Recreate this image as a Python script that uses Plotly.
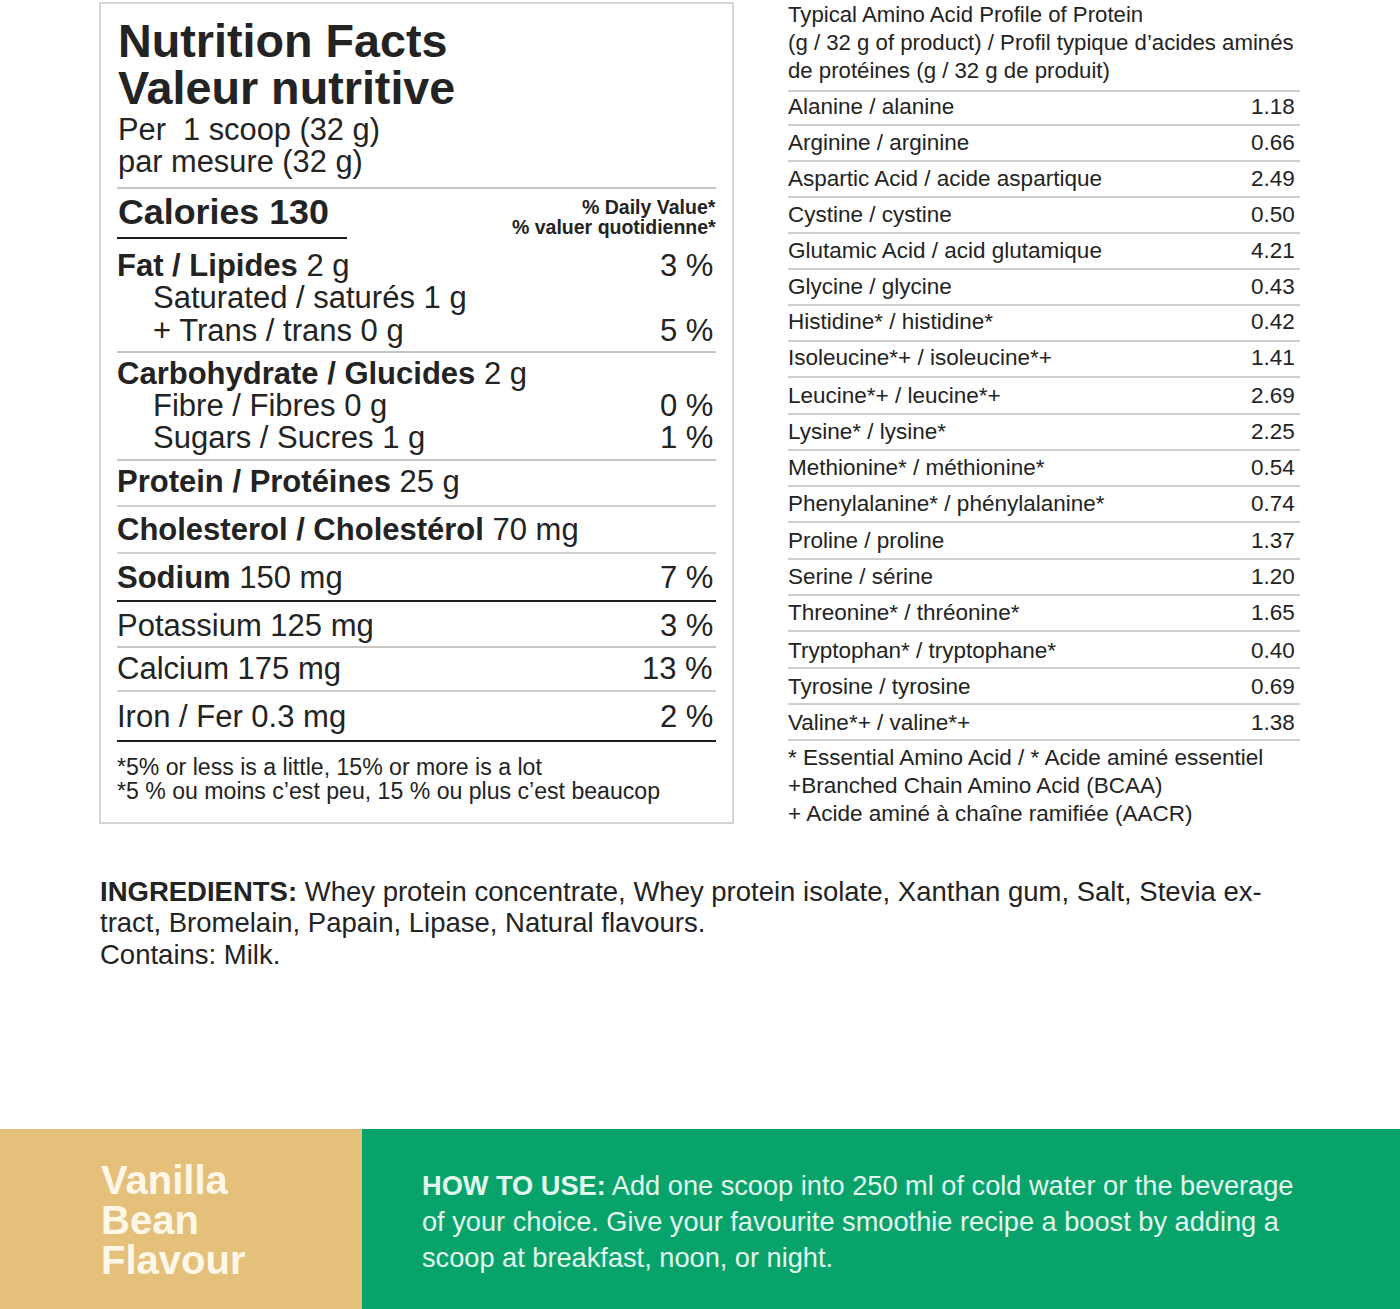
import plotly.graph_objects as go

# nutrition panel rows: bold part, plain part, daily value
title_lines = ["Nutrition Facts", "Valeur nutritive"]
serving_lines = ["Per\u00a0\u00a01\u00a0scoop (32 g)", "par mesure (32 g)"]
calories_label = "Calories 130"
daily_value_lines = ["% Daily Value*", "% valuer quotidienne*"]

nutrient_bold = ["Fat / Lipides", "", "", "Carbohydrate / Glucides", "", "", "Protein / Protéines",
                 "Cholesterol / Cholestérol", "Sodium", "", "", ""]
nutrient_plain = ["2 g", "Saturated / saturés 1 g", "+ Trans / trans 0 g", "2 g", "Fibre / Fibres 0 g",
                  "Sugars / Sucres 1 g", "25 g", "70 mg", "150 mg", "Potassium 125 mg",
                  "Calcium 175 mg", "Iron / Fer 0.3 mg"]
nutrient_pct = ["3 %", "", "5 %", "", "0 %", "1 %", "", "", "7 %", "3 %", "13 %", "2 %"]
footnotes = ["*5% or less is a little, 15% or more is a lot",
             "*5 % ou moins c\u2019est peu, 15 % ou plus c\u2019est beaucop"]

amino_header = ["Typical Amino Acid Profile of Protein",
                "(g / 32 g of product) / Profil typique d\u2019acides aminés",
                "de protéines (g / 32 g de produit)"]
amino_names = ["Alanine / alanine", "Arginine / arginine", "Aspartic Acid / acide aspartique",
               "Cystine / cystine", "Glutamic Acid / acid glutamique", "Glycine / glycine",
               "Histidine* / histidine*", "Isoleucine*+ / isoleucine*+", "Leucine*+ / leucine*+",
               "Lysine* / lysine*", "Methionine* / méthionine*", "Phenylalanine* / phénylalanine*",
               "Proline / proline", "Serine / sérine", "Threonine* / thréonine*",
               "Tryptophan* / tryptophane*", "Tyrosine / tyrosine", "Valine*+ / valine*+"]
amino_values = ["1.18", "0.66", "2.49", "0.50", "4.21", "0.43", "0.42", "1.41", "2.69",
                "2.25", "0.54", "0.74", "1.37", "1.20", "1.65", "0.40", "0.69", "1.38"]
amino_notes = ["* Essential Amino Acid / * Acide aminé essentiel",
               "+Branched Chain Amino Acid (BCAA)",
               "+ Acide aminé à chaîne ramifiée (AACR)"]

ingredients = ["<b>INGREDIENTS:</b> Whey protein concentrate, Whey protein isolate, Xanthan gum, Salt, Stevia ex-",
               "tract, Bromelain, Papain, Lipase, Natural flavours.",
               "Contains: Milk."]
flavour = ["Vanilla", "Bean", "Flavour"]
how_to_use = ["<b>HOW TO USE:</b> Add one scoop into 250 ml of cold water or the beverage",
              "of your choice. Give your favourite smoothie recipe a boost by adding a",
              "scoop at breakfast, noon, or night."]

# layout of the rows
nutrient_y = [265, 297, 330, 373, 405, 437, 481, 529, 577, 625, 668, 716]
nutrient_x = [117, 153, 153, 117, 153, 153, 117, 117, 117, 117, 117, 117]
amino_y = [106.5, 142.5, 178.5, 214.5, 250.5, 286.5, 321.5, 357.5, 395.5, 431.5, 467.5, 503.5,
           540.5, 576.5, 612.5, 650.5, 686.5, 722.5]
amino_lines = [91, 125, 161, 197, 233, 269, 305, 341, 377, 414, 450, 486, 522, 559, 595, 631, 668, 704, 740]
INK = "#232323"
FONT = "Liberation Sans"

fig = go.Figure()
annots = []
shapes = []


def text(x, y, s, size, anchor="left", color=INK):
    annots.append(dict(x=x, y=y, text=s, showarrow=False, xanchor=anchor, yanchor="middle",
                       align=anchor, borderpad=0, borderwidth=0,
                       font=dict(family=FONT, size=size, color=color)))


def rule(x0, x1, y, width=1.0, color="#8c8c8c"):
    shapes.append(dict(type="line", x0=x0, x1=x1, y0=y, y1=y, line=dict(color=color, width=width)))


# nutrition box
shapes.append(dict(type="rect", x0=100, x1=733, y0=3, y1=823, line=dict(color="#c8c8c8", width=1.5)))
for y, s in zip([41, 88], title_lines):
    text(118, y, "<b>%s</b>" % s, 46.7)
for y, s in zip([129.5, 161.5], serving_lines):
    text(118, y, s, 30.8)
rule(117, 716, 188)
text(118, 212, "<b>%s</b>" % calories_label, 35.8)
rule(117, 347, 238, 2, "#1e1e1e")
for y, s in zip([207, 227], daily_value_lines):
    text(716, y, "<b>%s</b>" % s, 19.5, anchor="right")

for i in range(len(nutrient_plain)):
    label = nutrient_plain[i]
    if nutrient_bold[i]:
        label = "<b>%s</b> %s" % (nutrient_bold[i], nutrient_plain[i])
    text(nutrient_x[i], nutrient_y[i], label, 31)
    if nutrient_pct[i]:
        text(713, nutrient_y[i], nutrient_pct[i], 31, anchor="right")

for y in [352, 460, 647]:
    rule(117, 716, y)
for y in [506, 553, 691]:
    rule(117, 716, y, 1.5, "#c0c0c0")
for y in [601, 741]:
    rule(117, 716, y, 2, "#1e1e1e")
for y, s in zip([767, 791], footnotes):
    text(117, y, s, 23.1)

# amino acid table
for y, s in zip([14.5, 42.5, 70.5], amino_header):
    text(788, y, s, 22.2)
for y in amino_lines:
    rule(788, 1300, y, 1, "#a0a0a0")
for i in range(len(amino_names)):
    text(788, amino_y[i], amino_names[i], 22.5)
    text(1295, amino_y[i], amino_values[i], 22.5, anchor="right")
for y, s in zip([757.5, 785.5, 813.5], amino_notes):
    text(788, y, s, 22.5)

for y, s in zip([891.5, 922.5, 954.5], ingredients):
    text(100, y, s, 27.5)

# bottom bands
shapes.append(dict(type="rect", x0=0, x1=362, y0=1129, y1=1309, line_width=0, fillcolor="#e5c07b"))
shapes.append(dict(type="rect", x0=362, x1=1400, y0=1129, y1=1309, line_width=0, fillcolor="#08a36b"))
for y, s in zip([1180, 1220, 1260], flavour):
    text(101, y, "<b>%s</b>" % s, 40, color="#fff8e8")
for y, s in zip([1185, 1221, 1257], how_to_use):
    text(422, y, s, 27.2, color="#e3f8ee")

fig.update_layout(
    width=1400, height=1309, margin=dict(l=0, r=0, t=0, b=0),
    paper_bgcolor="white", plot_bgcolor="white", showlegend=False,
    xaxis=dict(range=[0, 1400], visible=False, fixedrange=True),
    yaxis=dict(range=[1309, 0], visible=False, fixedrange=True),
    annotations=annots, shapes=shapes,
)
# page margin would push the figure 8px in
fig.write_html("out.html", config={"displayModeBar": False},
               post_script="document.body.style.margin='0';document.body.style.overflow='hidden';")
